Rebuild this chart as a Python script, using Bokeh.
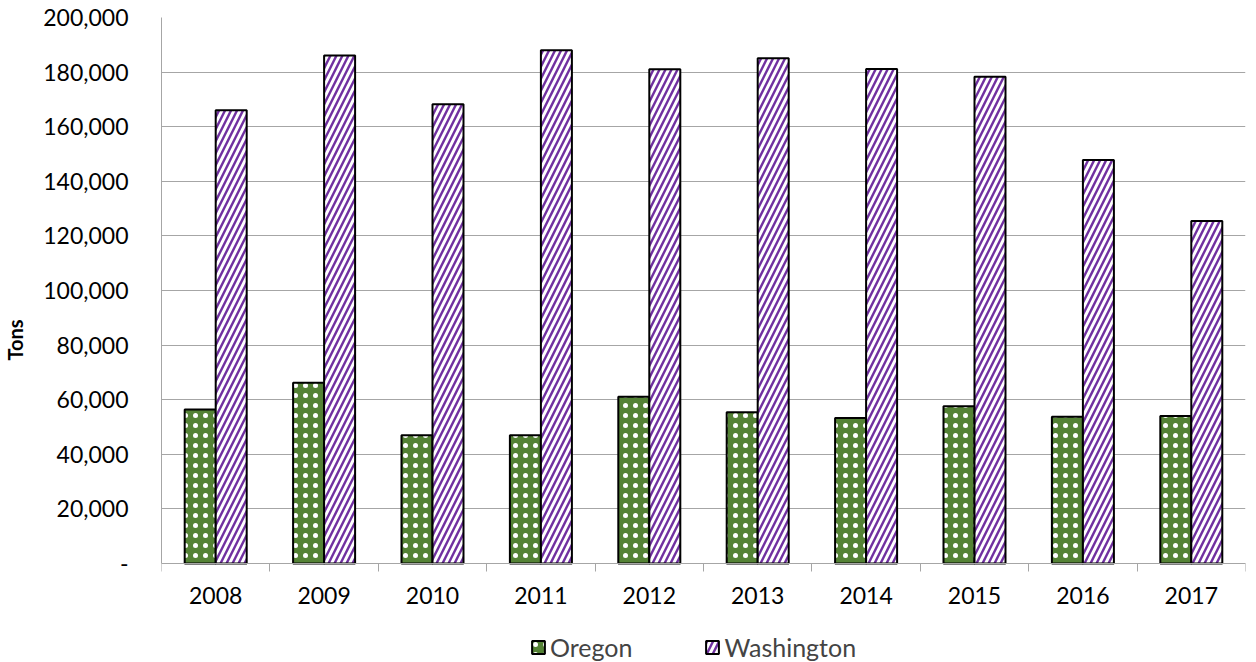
from bokeh.plotting import figure
from bokeh.models import ColumnDataSource, FixedTicker, Legend, LegendItem, Range1d
from bokeh.embed import file_html
from bokeh.resources import INLINE

years = ["2008", "2009", "2010", "2011", "2012", "2013", "2014", "2015", "2016", "2017"]
oregon = [56400, 66200, 47000, 47000, 61100, 55400, 53300, 57600, 53800, 54000]
washington = [166000, 186100, 168200, 188000, 181000, 185100, 181100, 178300, 147800, 125500]
y_ticks = [0, 20000, 40000, 60000, 80000, 100000, 120000, 140000, 160000, 180000, 200000]

FONT = "Lato"
W, H = 1256, 662
TOP, BOTTOM_AXIS = 17, 563          # pixel rows of 200,000 and of 0
Y_MAX = 200000
y_start = -(H - BOTTOM_AXIS) / (BOTTOM_AXIS - TOP) * Y_MAX   # room below 0 for labels + legend

idx = [i + 0.5 for i in range(len(years))]
bw = 0.286
src = ColumnDataSource(dict(
    xo=[c - bw / 2 for c in idx],
    xw=[c + bw / 2 for c in idx],
    oregon=oregon,
    washington=washington,
))

p = figure(width=W, height=H, output_backend="svg", toolbar_location=None,
           x_range=Range1d(0, len(years)), y_range=Range1d(y_start, Y_MAX),
           min_border_left=161, min_border_right=11, min_border_top=TOP, min_border_bottom=0)
p.outline_line_color = None
p.xgrid.grid_line_color = None
p.ygrid.grid_line_color = "#a6a6a6"
p.ygrid.grid_line_width = 1
p.ygrid.ticker = FixedTicker(ticks=y_ticks)

ro = p.vbar(x="xo", top="oregon", bottom=0, width=bw, source=src, fill_color="#548235",
            line_color="black", line_width=2, hatch_pattern=".", hatch_color="white",
            hatch_scale=10, hatch_weight=0.1)
rw = p.vbar(x="xw", top="washington", bottom=0, width=bw, source=src, fill_color="white",
            line_color="black", line_width=2, hatch_pattern="/", hatch_color="#7030a0",
            hatch_scale=12, hatch_weight=2.4)

# x axis, pinned at y = 0
xa = p.xaxis[0]
xa.fixed_location = 0
xa.ticker = FixedTicker(ticks=idx, minor_ticks=list(range(len(years) + 1)))
xa.major_label_overrides = {c: y for c, y in zip(idx, years)}
xa.major_tick_line_color = None
xa.major_tick_out = 8
xa.major_tick_in = 0
xa.minor_tick_line_color = "#a6a6a6"
xa.minor_tick_out = 8
xa.minor_tick_in = 0
xa.axis_line_color = "#a6a6a6"
xa.major_label_text_font = FONT
xa.major_label_text_font_size = "23px"
xa.major_label_text_color = "black"
xa.major_label_standoff = 15

# y axis
ya = p.yaxis[0]
ya.bounds = (0, Y_MAX)
ya.ticker = FixedTicker(ticks=y_ticks)
ya.major_label_overrides = {v: ("-" if v == 0 else f"{v:,}") for v in y_ticks}
ya.major_tick_line_color = None
ya.minor_tick_line_color = None
ya.major_tick_out = 0
ya.minor_tick_out = 0
ya.axis_line_color = "#a6a6a6"
ya.major_label_text_font = FONT
ya.major_label_text_font_size = "23px"
ya.major_label_text_color = "black"
ya.major_label_standoff = 33
ya.axis_label = "Tons"
ya.axis_label_text_font = FONT
ya.axis_label_text_font_style = "bold"
ya.axis_label_text_font_size = "20px"
ya.axis_label_text_color = "black"
ya.axis_label_standoff = 13

legend = Legend(items=[LegendItem(label="Oregon", renderers=[ro]),
                       LegendItem(label="Washington", renderers=[rw])],
                location=(369, 0), orientation="horizontal",
                border_line_color=None, background_fill_alpha=0,
                glyph_width=16, glyph_height=16, spacing=72,
                label_text_font=FONT, label_text_font_size="25px",
                label_standoff=4, padding=0, margin=0)
p.add_layout(legend, "center")

open("out.html", "w").write(file_html(p, INLINE))
